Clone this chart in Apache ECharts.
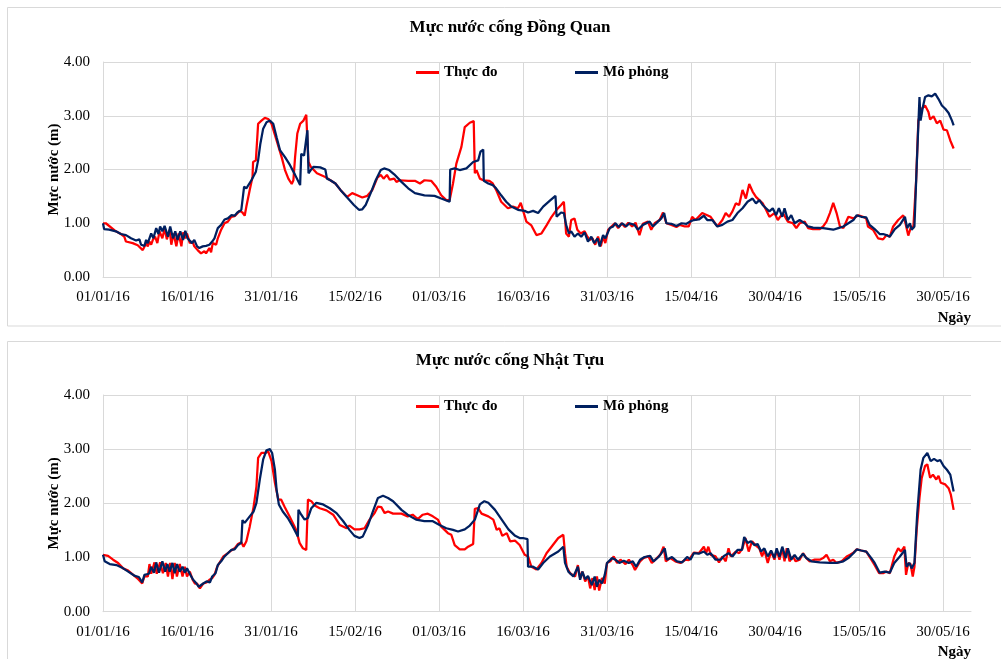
<!DOCTYPE html>
<html>
<head>
<meta charset="utf-8">
<script src="https://cdn.jsdelivr.net/npm/echarts@6/dist/echarts.min.js"></script>
<style>
  html, body { margin: 0; padding: 0; background: #ffffff; }
  #chart { width: 1001px; height: 659px; }
</style>
</head>
<body>
<div id="chart"></div>
<script>
// Tick labels (x positions are day offsets from 01/01/2016, every 15 days)
const xTickLabels = ['01/01/16', '16/01/16', '31/01/16', '15/02/16', '01/03/16', '16/03/16',
  '31/03/16', '15/04/16', '30/04/16', '15/05/16', '30/05/16'];
const yTickLabels = ['0.00', '1.00', '2.00', '3.00', '4.00'];
const seriesNames = ['Thực đo', 'Mô phỏng'];
const panelTitles = ['Mực nước cống Đồng Quan', 'Mực nước cống Nhật Tựu'];
const yAxisTitle = 'Mực nước (m)';
const xAxisTitle = 'Ngày';

// Đồng Quan – measured water level [day, m]
const dongQuanObserved = [
  [0,1.0],[0.5,1.0],[2.3,0.85],[3.2,0.8],[3.8,0.75],[4.1,0.66],[5.3,0.63],[6.2,0.59],[7.1,0.5],[7.4,0.52],
  [7.7,0.63],[8.0,0.57],[8.3,0.66],[8.6,0.6],[8.9,0.69],[9.3,0.75],[9.7,0.63],[10.1,0.85],[10.6,0.72],[11.0,0.9],
  [11.4,0.7],[11.9,0.88],[12.2,0.6],[12.6,0.81],[13.1,0.57],[13.5,0.81],[14.0,0.57],[14.3,0.83],[14.7,0.72],[15.0,0.81],
  [15.5,0.63],[16.0,0.66],[16.3,0.57],[16.9,0.5],[17.5,0.44],[18.1,0.48],[18.4,0.44],[19.0,0.54],[19.3,0.46],[19.6,0.63],
  [20.2,0.6],[20.5,0.72],[21.1,0.88],[21.7,1.0],[22.3,1.03],[22.9,1.12],[23.5,1.13],[24.4,1.23],[24.9,1.2],[25.3,1.14],
  [25.6,1.31],[26.2,1.62],[26.7,1.86],[26.8,2.14],[27.3,2.17],[27.7,2.85],[28.3,2.91],[28.9,2.96],[29.5,2.94],[30.1,2.85],
  [31.0,2.54],[31.9,2.23],[32.5,1.99],[33.1,1.83],[33.7,1.73],[34.0,1.8],[34.3,2.23],[34.7,2.67],[35.2,2.85],[35.8,2.91],
  [36.3,3.02],[36.5,2.54],[36.7,2.14],[37.1,2.05],[38.2,1.93],[39.7,1.86],[40.6,1.8],[41.5,1.74],[42.4,1.62],[43.6,1.49],
  [44.5,1.56],[45.4,1.52],[46.3,1.48],[47.2,1.51],[48.1,1.62],[49.0,1.85],[49.6,1.9],[50.1,1.83],[50.7,1.9],[51.2,1.81],
  [52.0,1.83],[52.4,1.77],[53.0,1.8],[53.3,1.77],[54.5,1.79],[55.7,1.79],[56.6,1.74],[57.4,1.8],[58.6,1.79],[59.5,1.68],
  [60.4,1.52],[61.3,1.43],[61.9,1.43],[62.5,1.74],[63.1,2.11],[64.0,2.42],[64.6,2.79],[65.5,2.87],[66.2,2.9],[66.4,1.93],
  [66.7,1.99],[67.3,1.83],[67.9,1.8],[69.0,1.79],[69.6,1.74],[70.2,1.62],[71.1,1.4],[72.3,1.28],[73.2,1.31],[74.1,1.28],
  [74.6,1.38],[75.0,1.24],[75.6,1.03],[76.5,0.96],[77.4,0.78],[78.3,0.81],[79.2,0.96],[80.1,1.12],[81.0,1.25],[81.8,1.34],
  [82.3,1.4],[82.7,0.81],[83.2,0.75],[83.6,1.06],[84.2,1.09],[84.7,0.88],[85.3,0.81],[86.0,0.85],[86.5,0.75],[86.9,0.69],
  [87.4,0.72],[87.9,0.6],[88.4,0.75],[88.9,0.57],[89.3,0.75],[89.7,0.63],[90.2,0.88],[90.8,0.94],[91.4,1.0],[92.0,0.91],
  [92.6,1.0],[93.2,0.93],[93.8,1.01],[94.5,0.94],[95.1,1.01],[95.8,0.78],[96.4,0.99],[97.3,1.03],[97.9,0.88],[98.5,1.0],
  [99.4,1.06],[100.0,1.2],[100.6,1.0],[101.5,0.97],[102.4,0.93],[103.0,0.97],[103.9,0.94],[104.6,0.94],[105.2,1.12],[105.8,1.06],
  [107.0,1.19],[107.9,1.15],[108.5,1.12],[109.1,1.03],[109.7,0.94],[110.6,1.06],[111.2,1.19],[111.8,1.12],[112.4,1.22],[113.0,1.37],
  [113.6,1.34],[114.2,1.62],[114.8,1.46],[115.4,1.73],[116.0,1.59],[116.6,1.49],[117.2,1.43],[117.8,1.37],[118.4,1.25],[119.0,1.12],
  [119.9,1.19],[120.5,1.06],[121.4,1.19],[122.3,1.03],[123.2,1.0],[123.8,0.91],[124.4,1.0],[125.3,1.03],[125.9,0.91],[126.8,0.89],
  [128.0,0.89],[128.6,0.94],[129.2,1.03],[129.8,1.19],[130.4,1.38],[131.0,1.19],[131.6,0.94],[132.2,0.91],[133.1,1.12],[134.0,1.09],
  [134.9,1.15],[135.7,1.12],[136.3,1.09],[136.6,0.94],[137.5,0.88],[138.4,0.72],[139.3,0.7],[139.9,0.78],[140.5,0.75],[141.1,0.94],
  [142.0,1.06],[142.9,1.15],[143.3,1.0],[143.8,0.77],[144.3,0.94],[144.7,0.91],[145.2,1.8],[145.6,2.91],[146.2,3.13],[146.8,3.19],
  [147.4,3.07],[147.7,2.93],[148.3,2.99],[148.9,2.86],[149.5,2.91],[150.1,2.74],[150.7,2.73],[151.3,2.54],[151.9,2.39]
];

// Đồng Quan – simulated water level [day, m]
const dongQuanSimulated = [
  [0,1.0],[0.2,0.89],[1.1,0.88],[2.3,0.85],[3.2,0.8],[4.1,0.78],[5.0,0.72],[5.9,0.68],[6.5,0.7],[6.8,0.6],
  [7.1,0.63],[7.4,0.58],[7.7,0.69],[8.0,0.63],[8.6,0.81],[9.0,0.72],[9.5,0.91],[9.9,0.8],[10.2,0.94],[10.6,0.85],
  [11.0,0.95],[11.6,0.75],[12.0,0.94],[12.5,0.72],[12.9,0.85],[13.3,0.69],[13.8,0.85],[14.3,0.69],[14.7,0.86],[15.1,0.72],
  [15.4,0.75],[15.9,0.63],[16.3,0.69],[16.8,0.57],[17.2,0.54],[17.8,0.57],[18.4,0.58],[19.0,0.6],[19.5,0.66],[19.9,0.72],
  [20.5,0.91],[21.1,0.97],[21.7,1.07],[22.3,1.09],[22.9,1.15],[23.5,1.14],[24.0,1.2],[24.7,1.25],[25.0,1.28],[25.2,1.68],
  [25.6,1.65],[26.5,1.8],[27.3,1.96],[27.7,2.17],[28.1,2.48],[28.6,2.76],[29.2,2.88],[29.8,2.91],[30.4,2.85],[31.0,2.6],
  [31.6,2.36],[32.5,2.23],[33.4,2.08],[34.3,1.9],[35.2,1.71],[35.4,2.29],[35.9,2.26],[36.2,2.23],[36.5,2.73],[36.7,1.93],
  [37.1,1.99],[37.6,2.05],[38.8,2.04],[39.7,2.0],[40.0,1.83],[40.6,1.8],[41.5,1.74],[42.4,1.62],[43.6,1.48],[44.8,1.34],
  [45.7,1.25],[46.3,1.26],[46.9,1.34],[47.8,1.56],[48.7,1.8],[49.6,1.99],[50.2,2.02],[51.1,1.99],[52.0,1.91],[53.3,1.77],
  [54.5,1.65],[55.7,1.56],[57.4,1.52],[59.2,1.51],[60.4,1.46],[61.9,1.4],[62.0,2.0],[62.8,2.02],[63.7,1.99],[64.9,2.02],
  [66.1,2.14],[67.0,2.17],[67.4,2.33],[67.9,2.37],[68.0,1.79],[68.8,1.74],[69.6,1.71],[70.2,1.65],[71.1,1.52],[72.0,1.4],
  [72.9,1.31],[74.1,1.25],[75.3,1.23],[75.9,1.2],[76.8,1.23],[77.7,1.19],[78.6,1.31],[79.8,1.42],[80.8,1.51],[81.0,1.12],
  [81.8,1.2],[82.3,1.19],[82.7,0.97],[83.2,0.81],[83.6,0.85],[84.2,0.75],[84.8,0.81],[85.4,0.75],[86.0,0.83],[86.6,0.66],
  [87.2,0.75],[87.7,0.63],[88.3,0.72],[88.7,0.57],[89.3,0.78],[89.7,0.72],[90.5,0.91],[91.1,0.94],[91.5,1.0],[92.1,0.93],
  [92.7,1.0],[93.4,0.94],[94.0,1.0],[94.9,0.97],[95.5,0.88],[96.4,0.97],[97.6,1.03],[98.2,0.94],[99.1,1.03],[99.7,1.09],
  [100.2,1.19],[100.6,1.0],[101.5,0.99],[102.4,0.95],[103.3,1.0],[104.2,0.99],[104.8,1.03],[105.5,1.06],[106.4,1.07],[107.3,1.14],
  [107.9,1.06],[108.8,1.06],[109.7,0.94],[110.6,0.97],[111.5,1.03],[112.4,1.06],[113.3,1.19],[114.2,1.28],[115.1,1.4],[116.0,1.46],
  [116.6,1.37],[117.2,1.43],[117.8,1.34],[118.4,1.28],[119.0,1.22],[119.6,1.28],[120.2,1.15],[120.7,1.28],[121.3,1.12],[121.7,1.28],
  [122.3,1.06],[122.9,1.15],[123.5,1.0],[124.4,1.06],[125.3,1.0],[125.9,0.94],[126.8,0.92],[128.6,0.91],[130.4,0.88],[131.3,0.91],
  [132.2,0.94],[133.1,1.0],[134.0,1.06],[134.6,1.15],[135.4,1.12],[136.3,1.11],[136.9,0.97],[137.8,0.89],[138.7,0.8],[139.3,0.8],
  [139.9,0.78],[140.5,0.75],[141.4,0.89],[142.3,0.97],[143.2,1.12],[143.6,0.91],[144.1,1.0],[144.4,0.88],[144.9,0.94],[145.3,2.05],
  [145.8,3.35],[146.0,2.91],[146.4,3.16],[146.8,3.35],[147.4,3.38],[148.0,3.36],[148.6,3.41],[149.2,3.31],[149.8,3.19],[150.4,3.13],
  [151.0,3.05],[151.6,2.91],[151.9,2.82]
];

// Nhật Tựu – measured water level [day, m]
const nhatTuuObserved = [
  [0,1.05],[0.9,1.03],[1.8,0.96],[2.7,0.9],[3.6,0.8],[4.5,0.76],[5.4,0.68],[6.3,0.6],[7.0,0.52],[7.4,0.65],
  [8.0,0.65],[8.3,0.88],[8.6,0.7],[9.2,0.91],[9.6,0.7],[10.2,0.91],[10.7,0.71],[11.2,0.9],[11.6,0.65],[12.0,0.9],
  [12.4,0.6],[12.8,0.9],[13.2,0.65],[13.7,0.88],[14.2,0.65],[14.6,0.83],[15.0,0.65],[15.5,0.74],[16.0,0.59],[16.4,0.52],
  [16.8,0.52],[17.3,0.43],[17.9,0.52],[18.5,0.54],[19.0,0.59],[19.5,0.62],[19.9,0.68],[20.4,0.83],[20.8,0.9],[21.5,1.02],
  [22.3,1.08],[22.9,1.13],[23.5,1.17],[24.1,1.25],[24.7,1.28],[25.1,1.2],[25.6,1.3],[26.2,1.57],[26.9,1.94],[27.4,2.31],
  [27.7,2.84],[28.3,2.93],[29.0,2.93],[29.5,2.96],[30.1,2.78],[30.7,2.38],[31.3,2.07],[31.8,2.07],[32.4,1.94],[33.3,1.76],
  [34.5,1.51],[35.1,1.27],[35.7,1.17],[36.3,1.14],[36.6,2.07],[37.2,2.04],[37.8,1.96],[38.7,1.91],[39.9,1.87],[41.1,1.79],
  [42.3,1.6],[43.5,1.54],[44.0,1.59],[44.9,1.52],[45.8,1.52],[46.7,1.54],[47.6,1.7],[48.5,1.82],[49.1,1.94],[49.7,1.93],
  [50.3,1.82],[50.9,1.85],[51.8,1.81],[53.3,1.81],[54.4,1.76],[55.3,1.79],[56.2,1.71],[57.1,1.79],[58.0,1.81],[58.9,1.76],
  [59.8,1.7],[60.4,1.57],[61.0,1.51],[61.6,1.45],[62.2,1.42],[62.8,1.23],[63.7,1.15],[64.6,1.15],[65.2,1.2],[66.1,1.25],
  [66.4,1.9],[67.0,1.91],[67.6,1.81],[68.8,1.76],[69.7,1.7],[70.3,1.51],[70.8,1.54],[71.3,1.4],[72.1,1.45],[72.7,1.3],
  [73.6,1.31],[74.4,1.23],[75.3,1.05],[75.9,1.02],[76.5,0.83],[77.4,0.78],[78.3,0.9],[79.2,1.08],[80.1,1.2],[81.3,1.36],
  [82.2,1.42],[82.5,1.08],[82.8,0.83],[83.4,0.71],[84.3,0.65],[84.8,0.86],[85.2,0.62],[85.6,0.74],[86.1,0.56],[86.6,0.65],
  [87.0,0.43],[87.4,0.62],[87.8,0.4],[88.2,0.65],[88.6,0.39],[89.1,0.62],[89.6,0.52],[90.0,0.9],[90.6,0.93],[91.2,1.02],
  [91.8,0.9],[92.4,0.96],[93.3,0.88],[93.9,0.96],[94.6,0.86],[95.0,0.77],[95.9,0.93],[96.5,0.99],[97.4,1.02],[98.0,0.9],
  [98.9,0.99],[99.5,1.05],[100.1,1.2],[100.5,0.93],[101.3,0.99],[102.2,0.93],[103.1,0.9],[104.0,0.96],[104.6,0.95],[105.5,1.09],
  [106.4,1.08],[107.3,1.2],[107.7,1.08],[108.1,1.2],[108.5,1.05],[109.4,1.02],[110.0,0.91],[110.6,1.02],[111.2,0.93],[111.7,1.17],
  [112.1,1.02],[113.0,1.11],[113.6,1.08],[114.2,1.17],[114.7,1.36],[115.3,1.11],[115.9,1.3],[116.5,1.23],[117.2,1.17],[117.7,1.02],
  [118.1,1.14],[118.7,0.9],[119.3,1.11],[119.9,0.96],[120.3,1.14],[120.8,0.96],[121.3,1.17],[121.7,0.93],[122.1,1.17],[122.6,0.93],
  [123.2,1.02],[123.7,0.93],[124.4,0.96],[125.0,1.08],[125.6,0.99],[126.2,0.93],[127.1,0.96],[128.0,0.96],[128.6,0.99],[129.2,1.05],
  [129.8,0.93],[130.4,0.96],[131.0,0.9],[131.9,0.93],[132.8,1.02],[133.4,1.05],[134.0,1.09],[134.6,1.15],[135.4,1.13],[136.3,1.11],
  [137.2,0.96],[137.8,0.86],[138.6,0.71],[139.3,0.71],[139.9,0.74],[140.5,0.71],[141.3,1.02],[142.0,1.17],[142.5,1.11],[143.1,1.2],
  [143.4,0.68],[143.8,0.9],[144.2,0.88],[144.6,0.65],[144.9,0.83],[145.3,1.51],[145.8,2.1],[146.2,2.47],[146.8,2.69],[147.2,2.72],
  [147.7,2.47],[148.2,2.53],[148.8,2.44],[149.2,2.51],[149.6,2.38],[150.4,2.35],[151.0,2.28],[151.4,2.16],[151.9,1.88]
];

// Nhật Tựu – simulated water level [day, m]
const nhatTuuSimulated = [
  [0,1.05],[0.3,0.93],[1.2,0.88],[2.4,0.86],[3.6,0.8],[4.5,0.74],[5.7,0.66],[6.4,0.64],[7.0,0.54],[7.4,0.68],
  [8.2,0.7],[8.6,0.83],[9.1,0.72],[9.5,0.91],[10.0,0.72],[10.6,0.93],[11.1,0.74],[11.5,0.88],[11.9,0.74],[12.4,0.9],
  [12.8,0.71],[13.2,0.88],[13.7,0.74],[14.2,0.83],[14.6,0.72],[15.0,0.8],[15.6,0.68],[16.1,0.59],[16.7,0.52],[17.1,0.46],
  [17.9,0.52],[18.5,0.56],[19.1,0.54],[19.5,0.65],[20.1,0.71],[20.5,0.86],[21.1,0.93],[21.7,1.02],[22.3,1.08],[22.9,1.14],
  [23.5,1.15],[24.1,1.23],[24.7,1.27],[24.9,1.69],[25.3,1.64],[26.2,1.76],[26.9,1.85],[27.4,2.01],[28.0,2.44],[28.6,2.81],
  [29.2,2.98],[29.8,3.0],[30.2,2.93],[30.7,2.62],[31.0,2.25],[31.4,1.98],[32.1,1.85],[33.0,1.73],[33.9,1.57],[34.8,1.39],
  [34.9,1.88],[35.4,1.79],[36.0,1.7],[36.6,1.73],[37.2,1.91],[38.1,2.01],[39.3,1.98],[40.5,1.91],[41.7,1.82],[42.9,1.67],
  [44.0,1.51],[44.9,1.4],[45.8,1.36],[46.4,1.39],[47.3,1.59],[48.2,1.85],[49.1,2.1],[50.0,2.14],[50.9,2.1],[51.8,2.04],
  [53.3,1.88],[54.4,1.79],[55.9,1.7],[57.4,1.67],[58.9,1.67],[60.1,1.6],[61.3,1.54],[62.5,1.51],[63.4,1.48],[64.6,1.52],
  [65.5,1.59],[66.4,1.7],[67.3,1.98],[68.1,2.04],[68.8,2.01],[70.0,1.88],[71.2,1.7],[72.4,1.52],[73.6,1.4],[74.4,1.36],
  [75.0,1.36],[75.8,1.34],[75.9,0.83],[76.8,0.83],[77.7,0.78],[78.6,0.9],[79.8,1.02],[81.3,1.11],[82.2,1.2],[82.5,0.9],
  [83.1,0.74],[84.0,0.65],[84.8,0.83],[85.2,0.59],[85.6,0.74],[86.1,0.6],[86.6,0.66],[87.3,0.49],[87.8,0.65],[88.2,0.46],
  [88.6,0.59],[89.1,0.52],[89.6,0.68],[90.0,0.9],[90.9,0.99],[91.5,0.96],[92.2,0.9],[93.0,0.94],[93.9,0.9],[94.6,0.93],
  [95.2,0.83],[95.9,0.96],[96.7,1.01],[97.7,1.03],[98.3,0.93],[99.2,1.01],[99.8,1.09],[100.3,1.17],[100.7,0.96],[101.6,1.01],
  [102.5,0.93],[103.4,0.91],[104.3,1.01],[104.9,0.96],[105.5,1.08],[106.4,1.07],[107.3,1.11],[107.9,1.05],[108.5,1.08],[109.4,0.96],
  [110.3,0.96],[110.9,1.03],[111.7,1.08],[112.4,1.02],[113.3,1.14],[114.1,1.14],[114.5,1.38],[115.1,1.27],[115.7,1.3],[116.3,1.23],
  [116.9,1.25],[117.5,1.11],[118.1,1.17],[118.7,1.02],[119.3,1.13],[119.9,0.99],[120.3,1.17],[120.8,1.01],[121.3,1.2],[121.9,0.99],
  [122.3,1.17],[122.9,0.96],[123.5,1.05],[124.1,0.96],[125.0,1.07],[125.6,0.99],[126.5,0.93],[128.0,0.91],[129.8,0.9],[131.0,0.9],
  [132.2,0.93],[133.1,0.99],[134.0,1.08],[134.6,1.15],[135.4,1.13],[136.3,1.11],[137.2,0.99],[137.8,0.9],[138.7,0.72],[139.6,0.74],
  [140.5,0.72],[141.3,0.9],[142.3,1.02],[143.2,1.14],[143.5,0.83],[144.0,0.9],[144.4,0.8],[144.9,0.9],[145.4,1.82],[146.0,2.62],
  [146.5,2.84],[147.2,2.93],[147.8,2.78],[148.4,2.82],[149.0,2.78],[149.5,2.8],[150.1,2.69],[150.7,2.62],[151.3,2.53],[151.9,2.22]
];

const FONT = "'Liberation Serif', 'Times New Roman', serif";
const GRID_COLOR = '#d9d9d9';
const OBS_COLOR = '#ff0000';
const SIM_COLOR = '#002060';

const panels = [
  { title: panelTitles[0], observed: dongQuanObserved, simulated: dongQuanSimulated,
    gridTop: 62, gridHeight: 215, titleTop: 19, legendTop: 65, boxTop: 7.5, boxHeight: 318.5, xNameY: 318 },
  { title: panelTitles[1], observed: nhatTuuObserved, simulated: nhatTuuSimulated,
    gridTop: 395, gridHeight: 216.7, titleTop: 352, legendTop: 399, boxTop: 341.5, boxHeight: 330, xNameY: 652 }
];

const chart = echarts.init(document.getElementById('chart'), null, { renderer: 'canvas' });

const option = {
  animation: false,
  backgroundColor: '#ffffff',
  title: panels.map(p => ({
    text: p.title,
    left: 510,
    top: p.titleTop,
    textAlign: 'center',
    padding: 0,
    textStyle: { fontFamily: FONT, fontWeight: 'bold', fontSize: 17, color: '#000000' }
  })),
  legend: panels.flatMap(p => [
    { data: [seriesNames[0]], left: 416, top: p.legendTop },
    { data: [seriesNames[1]], left: 575, top: p.legendTop }
  ].map(l => Object.assign(l, {
    padding: 0,
    icon: 'rect',
    itemWidth: 23,
    itemHeight: 3,
    selectedMode: false,
    textStyle: { fontFamily: FONT, fontWeight: 'bold', fontSize: 15, color: '#000000' }
  }))),
  grid: panels.map(p => ({ left: 103, right: 30, top: p.gridTop, height: p.gridHeight })),
  xAxis: panels.map((p, i) => ({
    type: 'value',
    gridIndex: i,
    min: 0,
    max: 155,
    interval: 15,
    axisLine: { show: true, lineStyle: { color: GRID_COLOR, width: 1 } },
    axisTick: { show: false },
    axisLabel: {
      margin: 13,
      showMaxLabel: false,
      fontFamily: FONT,
      fontSize: 15,
      color: '#000000',
      formatter: v => (v % 15 === 0 ? (xTickLabels[v / 15] || '') : '')
    },
    splitLine: { show: true, showMinLine: false, showMaxLine: false, lineStyle: { color: GRID_COLOR, width: 1 } }
  })),
  yAxis: panels.map((p, i) => ({
    type: 'value',
    gridIndex: i,
    min: 0,
    max: 4,
    interval: 1,
    axisLine: { show: true, lineStyle: { color: GRID_COLOR, width: 1 } },
    axisTick: { show: false },
    axisLabel: {
      margin: 13,
      fontFamily: FONT,
      fontSize: 15,
      color: '#000000',
      formatter: v => yTickLabels[v] || ''
    },
    splitLine: { show: true, lineStyle: { color: GRID_COLOR, width: 1 } }
  })),
  series: panels.flatMap((p, i) => [
    { name: seriesNames[0], data: p.observed, color: OBS_COLOR },
    { name: seriesNames[1], data: p.simulated, color: SIM_COLOR }
  ].map(s => Object.assign(s, {
    type: 'line',
    xAxisIndex: i,
    yAxisIndex: i,
    showSymbol: false,
    symbol: 'none',
    lineStyle: { width: 2.25, color: s.color },
    itemStyle: { color: s.color },
    emphasis: { disabled: true }
  }))),
  graphic: panels.flatMap(p => [
    {
      type: 'rect',
      silent: true,
      shape: { x: 7.5, y: p.boxTop, width: 1000, height: p.boxHeight },
      style: { fill: 'none', stroke: GRID_COLOR, lineWidth: 1 }
    },
    {
      // vertical axis title, centred on the plot height
      type: 'text',
      silent: true,
      x: 54,
      y: p.gridTop + p.gridHeight / 2,
      rotation: Math.PI / 2,
      style: {
        text: yAxisTitle,
        align: 'center',
        verticalAlign: 'middle',
        font: 'bold 15px ' + FONT,
        fill: '#000000'
      }
    },
    {
      type: 'text',
      silent: true,
      x: 971,
      y: p.xNameY,
      style: {
        text: xAxisTitle,
        align: 'right',
        verticalAlign: 'middle',
        font: 'bold 15px ' + FONT,
        fill: '#000000'
      }
    }
  ])
};

chart.setOption(option);
</script>
</body>
</html>
